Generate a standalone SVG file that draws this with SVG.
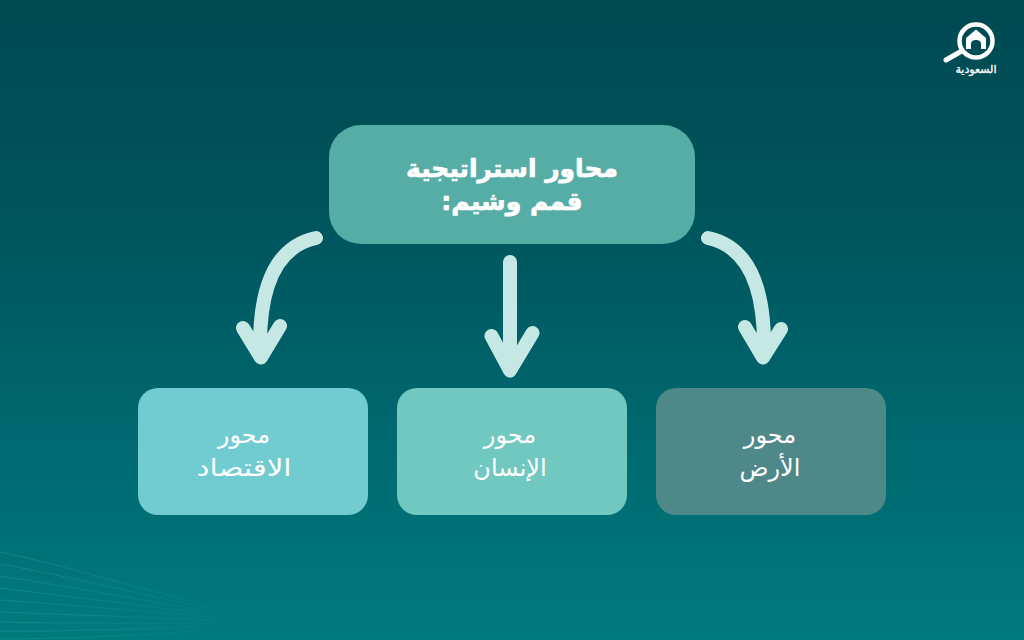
<svg xmlns="http://www.w3.org/2000/svg" width="1024" height="640" viewBox="0 0 1024 640">
<style>
text{font-family:"DejaVu Sans","Noto Sans",sans-serif;fill:#fff;text-anchor:middle;direction:rtl}
.t{font-size:25px;font-weight:700;stroke:#fff;stroke-width:.7px}
.s{font-size:24px}
.a{fill:none;stroke:#c5e8e4;stroke-width:14;stroke-linecap:round;stroke-linejoin:round}
.w{fill:none;stroke:url(#fade);stroke-width:1.200}
</style>
<defs>
<linearGradient id="bg" x1="0" y1="0" x2="0" y2="1">
<stop offset="0" stop-color="#004a52"/><stop offset=".3" stop-color="#00525a"/><stop offset=".7" stop-color="#006a70"/><stop offset="1" stop-color="#007a7e"/>
</linearGradient>
<linearGradient id="fade" gradientUnits="userSpaceOnUse" x1="0" y1="0" x2="240" y2="0">
<stop offset="0" stop-color="#2fb0aa" stop-opacity=".3"/><stop offset=".6" stop-color="#2fb0aa" stop-opacity=".15"/><stop offset="1" stop-color="#2fb0aa" stop-opacity="0"/>
</linearGradient>
</defs>
<rect width="1024" height="640" fill="url(#bg)"/>
<g id="waves">
<path class="w" d="M0 552C70 566 160 596 240 612"/>
<path class="w" d="M0 564C70 576 160 600 240 614"/>
<path class="w" d="M0 576C70 586 160 604 240 616"/>
<path class="w" d="M0 588C70 596 160 608 240 618"/>
<path class="w" d="M0 600C70 605 160 612 240 620"/>
<path class="w" d="M0 612C70 615 160 617 240 622"/>
<path class="w" d="M0 622C70 624 160 622 240 624"/>
<path class="w" d="M0 631C70 632 160 628 240 626"/>
<path class="w" d="M0 639C70 639 160 634 240 628"/>
</g>
<g id="connectors">
<path class="a" d="M316 238C283 245 260 275 260 345M243 328L261 357.500L280 326"/>
<path class="a" d="M510 262V360M491.500 336L510 370.500L532.500 333"/>
<path class="a" d="M708 238C741 245 764 275 764 345M745 327L763 357.500L781 329"/>
</g>
<g id="node-main">
<rect x="329" y="125" width="366" height="119" rx="32" fill="#55ada5"/>
<text class="t" x="512" y="177">محاور استراتيجية</text>
<text class="t" x="512" y="210">قمم وشيم:</text>
</g>
<g id="node-economy">
<rect x="138" y="388" width="230" height="127" rx="20" fill="#70ccd0"/>
<text class="s" x="244" y="443">محور</text>
<text class="s" x="244" y="476" textLength="95" lengthAdjust="spacingAndGlyphs">الاقتصاد</text>
</g>
<g id="node-human">
<rect x="397" y="388" width="230" height="127" rx="20" fill="#70c8c0"/>
<text class="s" x="510" y="443">محور</text>
<text class="s" x="510" y="476">الإنسان</text>
</g>
<g id="node-land">
<rect x="656" y="388" width="230" height="127" rx="20" fill="#4f8889"/>
<text class="s" x="770" y="443">محور</text>
<text class="s" x="770" y="476">الأرض</text>
</g>
<g id="logo">
<circle cx="976" cy="41" r="16.500" fill="none" stroke="#fff" stroke-width="4.500"/>
<path d="M946 60L960 52" fill="none" stroke="#fff" stroke-width="5" stroke-linecap="round"/>
<path fill="#fff" d="M976 29.500L986 38V49H981V44Q981 40 976 40T971 44V49H966V38Z"/>
<text x="976" y="73" style="font-size:11px;stroke:#fff;stroke-width:.3px">السعودية</text>
</g>
</svg>
